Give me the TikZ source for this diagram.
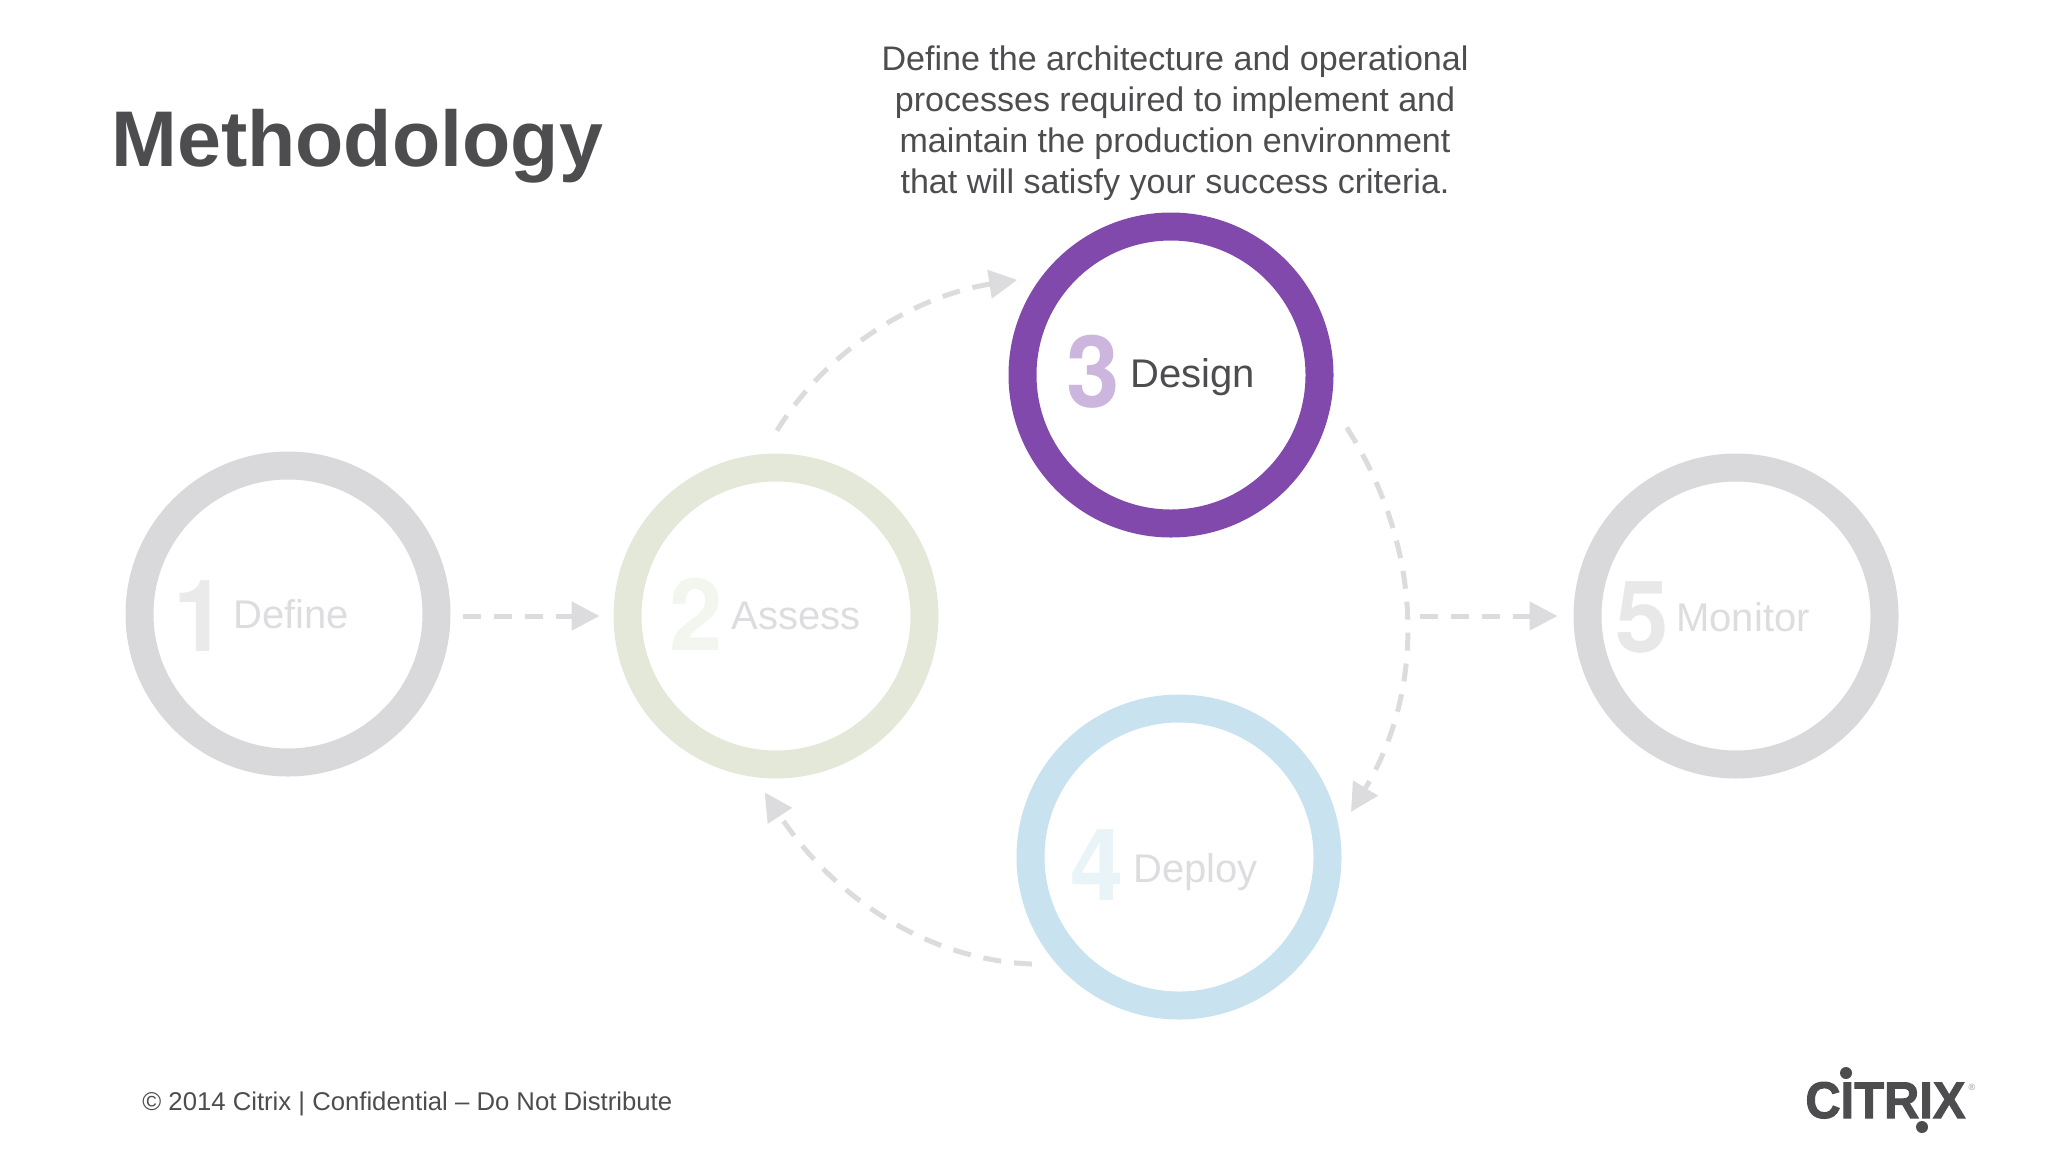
\documentclass[tikz,border=0pt]{standalone}
\usepackage{fontspec}
\setmainfont{Liberation Sans}
\newfontfamily\digitfont{TeX Gyre Heros}
\usetikzlibrary{arrows.meta}
\definecolor{txt}{HTML}{4D4D4F}
\definecolor{ringa}{HTML}{D9D9DB}
\definecolor{ringb}{HTML}{E3E8D9}
\definecolor{ringc}{HTML}{8049AB}
\definecolor{ringd}{HTML}{C9E2F0}
\definecolor{ringe}{HTML}{D9D8DB}
\definecolor{arrowc}{HTML}{DCDCDE}
\newcommand{\narrowdigit}[1]{\scalebox{0.96}[1]{#1}}
\tikzset{
  ring/.style={circle,draw=#1,line width=14pt,minimum size=148.5pt,inner sep=0pt},
  digit/.style={anchor=base,inner sep=0pt,font=\fontsize{50}{50}\selectfont\digitfont\bfseries,text=#1},
  steplabel/.style={anchor=base west,inner sep=0pt,font=\fontsize{20}{24}\selectfont,text=#1},
  flow/.style={draw=arrowc,line width=2.5pt,dash pattern=on 9pt off 6.5pt,
    -{Triangle[length=14pt,width=14pt,fill=arrowc,sep=0pt]}},
}
\begin{document}
\begin{tikzpicture}[x=0.5pt,y=-0.5pt]
\useasboundingbox (0,0) rectangle (2048,1152);
\node[anchor=base west,inner sep=0pt,font=\fontsize{39.5}{44}\selectfont\bfseries,text=txt] (title) at (111,166) {Methodology};
\node[align=center,inner sep=0pt,font=\fontsize{17.03}{20.5}\selectfont,text=txt] (desc) at (1175,123)
  {Define the architecture and operational\\processes required to implement and\\maintain the production environment\\that will satisfy your success criteria.};
\node[ring=ringa] (n1) at (288,614) {};
\node[ring=ringb] (n2) at (776,616) {};
\node[ring=ringc] (n3) at (1171,375) {};
\node[ring=ringd] (n4) at (1179,857) {};
\node[ring=ringe] (n5) at (1736,616) {};
\node[digit=ringa!55!white] (d1) at (200,651) {\narrowdigit{1}};
\node[steplabel=ringa!90!white] (l1) at (233,628) {Define};
\node[digit=ringb!42!white] (d2) at (696,650) {\narrowdigit{2}};
\node[steplabel=ringa!90!white] (l2) at (731,629) {Assess};
\node[digit=ringc!40!white] (d3) at (1093,407) {\narrowdigit{3}};
\node[steplabel=txt] (l3) at (1130,387) {Design};
\node[digit=ringd!40!white] (d4) at (1097,900) {\narrowdigit{4}};
\node[steplabel=ringa!90!white] (l4) at (1133,882) {Deploy};
\node[digit=ringe!60!white] (d5) at (1642,652) {\narrowdigit{5}};
\node[steplabel=ringa!90!white] (l5) at (1676,631) {Monitor};
\draw[flow,shorten <=6pt,shorten >=7pt] (n1.east |- n2) -- (n2);
\draw[flow] ([shift={(1,-23)}]n2.north) .. controls (830,345) and (920,295) .. ([shift={(-16,-9)}]n3.148);
\draw[flow] ([shift={(23,-3)}]n3.-20) .. controls (1425,550) and (1425,690) .. ([shift={(15,-3)}]n4.15);
\draw[flow] ([shift={(-19,7)}]n4.-142) .. controls (930,960) and (835,900) .. ([shift={(-17,14)}]n2.-88);
\coordinate (s5) at ([xshift=37.5pt]n3.-5 |- n5);
\draw[flow,shorten <=6pt,shorten >=8pt] (s5) -- (n5);
\node[anchor=base west,inner sep=0pt,font=\fontsize{12.85}{16}\selectfont,text=txt] (foot) at (142,1110) {© 2014 Citrix | Confidential – Do Not Distribute};
\node[anchor=base west,inner sep=0pt,text=txt,font=\bfseries\addfontfeature{FakeBold=2}] (logo) at (1805,1118)
  {\resizebox{80pt}{18pt}{CITRIX}};
\node[circle,fill=txt,inner sep=0pt,minimum size=6pt] (dota) at (1846,1073) {};
\node[circle,fill=txt,inner sep=0pt,minimum size=6pt] (dotb) at (1922,1127) {};
\node[anchor=center,inner sep=0pt,text=txt!60!white,font=\fontsize{4.5}{5}\selectfont] (reg) at (1972,1087) {®};
\end{tikzpicture}
\end{document}
